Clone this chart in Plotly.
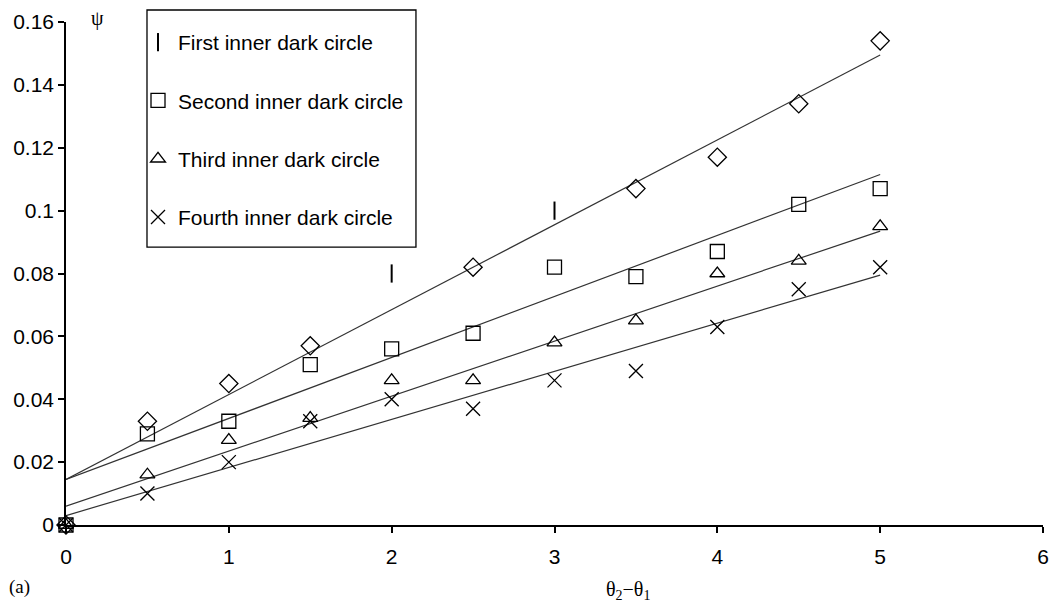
import plotly.graph_objects as go

# ---- data ----
x_vals = [0, 0.5, 1, 1.5, 2, 2.5, 3, 3.5, 4, 4.5, 5]

# first inner dark circle: diamonds (x=2 and x=3 plotted as "I" marks)
first_x_diamond = [0, 0.5, 1, 1.5, 2.5, 3.5, 4, 4.5, 5]
first_y_diamond = [0, 0.033, 0.045, 0.057, 0.082, 0.107, 0.117, 0.134, 0.154]
first_x_bar = [2, 3]
first_y_bar = [0.080, 0.100]

second_y = [0, 0.029, 0.033, 0.051, 0.056, 0.061, 0.082, 0.079, 0.087, 0.102, 0.107]
third_y = [0, 0.016, 0.027, 0.034, 0.046, 0.046, 0.058, 0.065, 0.080, 0.084, 0.095]
fourth_y = [0, 0.010, 0.020, 0.033, 0.040, 0.037, 0.046, 0.049, 0.063, 0.075, 0.082]

series_names = ["First inner dark circle", "Second inner dark circle",
                "Third inner dark circle", "Fourth inner dark circle"]

# linear trend lines (intercept, slope)
trend_intercepts = [0.0145, 0.0145, 0.0060, 0.0030]
trend_slopes = [0.0270, 0.0194, 0.0175, 0.0153]
trend_x = [0, 5]

y_tickvals = [0, 0.02, 0.04, 0.06, 0.08, 0.1, 0.12, 0.14, 0.16]
y_ticktext = ["0", "0.02", "0.04", "0.06", "0.08", "0.1", "0.12", "0.14", "0.16"]
x_tickvals = [0, 1, 2, 3, 4, 5, 6]

SANS = "Liberation Sans"
SERIF = "Liberation Serif"

# ---- figure ----
fig = go.Figure()

for b, m in zip(trend_intercepts, trend_slopes):
    fig.add_trace(go.Scatter(
        x=trend_x, y=[b + m * xx for xx in trend_x], mode="lines",
        line=dict(color="#333333", width=1.2), showlegend=False, hoverinfo="skip"))

mk_line = dict(color="black", width=1.3)

fig.add_trace(go.Scatter(
    x=first_x_bar, y=first_y_bar, mode="markers", name=series_names[0],
    legendgroup="g1",
    marker=dict(symbol="line-ns-open", size=13, color="black",
                line=dict(color="black", width=2)), cliponaxis=False))
fig.add_trace(go.Scatter(
    x=first_x_diamond, y=first_y_diamond, mode="markers", name=series_names[0],
    legendgroup="g1", showlegend=False,
    marker=dict(symbol="diamond-open", size=14, color="black", line=mk_line),
    cliponaxis=False))
fig.add_trace(go.Scatter(
    x=x_vals, y=second_y, mode="markers", name=series_names[1], legendgroup="g2",
    marker=dict(symbol="square-open", size=14, color="black", line=mk_line),
    cliponaxis=False))
fig.add_trace(go.Scatter(
    x=x_vals, y=third_y, mode="markers", name=series_names[2], legendgroup="g3",
    marker=dict(symbol="triangle-up-open", size=13, color="black", line=mk_line),
    cliponaxis=False))
fig.add_trace(go.Scatter(
    x=x_vals, y=fourth_y, mode="markers", name=series_names[3], legendgroup="g4",
    marker=dict(symbol="x-thin-open", size=14, color="black", line=mk_line),
    cliponaxis=False))

# page body has an 8px margin: figure origin sits at (8, 8)
fig.update_layout(
    width=1050, height=600,
    margin=dict(l=58, r=15, t=14, b=83, autoexpand=False),
    paper_bgcolor="white", plot_bgcolor="white",
    font=dict(family=SANS, size=21, color="black"),
    showlegend=True,
    legend=dict(
        x=0.0737, y=1.0, xanchor="left", yanchor="top",
        borderwidth=0, bgcolor="rgba(0,0,0,0)",
        traceorder="grouped", tracegroupgap=28,
        font=dict(family=SANS, size=21, color="black"),
        itemwidth=30,
    ),
    xaxis=dict(
        range=[0, 6], tickvals=x_tickvals, showgrid=False, zeroline=False,
        showline=True, linecolor="black", linewidth=1.5,
        ticks="outside", ticklen=6, tickcolor="black", tickwidth=1.5,
        tickfont=dict(family=SANS, size=21), ticklabelstandoff=6,
    ),
    yaxis=dict(
        range=[0, 0.16], tickvals=y_tickvals, ticktext=y_ticktext,
        showgrid=False, zeroline=False,
        showline=True, linecolor="black", linewidth=1.5,
        ticks="outside", ticklen=6, tickcolor="black", tickwidth=1.5,
        tickfont=dict(family=SANS, size=21),
    ),
    shapes=[dict(type="rect", xref="paper", yref="paper",
                 x0=0.0829, x1=0.3582, y0=0.5524, y1=1.0239,
                 line=dict(color="black", width=1.3), fillcolor="rgba(0,0,0,0)",
                 layer="above")],
)

fig.add_annotation(
    text="θ<sub>2</sub>−θ<sub>1</sub>", xref="paper", yref="paper",
    x=0.575, y=-0.13, xanchor="center", yanchor="middle", showarrow=False,
    font=dict(family=SERIF, size=20, color="black"))
fig.add_annotation(
    text="(a)", xref="paper", yref="paper",
    x=-0.06, y=-0.123, xanchor="left", yanchor="middle", showarrow=False,
    font=dict(family=SERIF, size=19, color="black"))
fig.add_annotation(
    text="ψ", xref="paper", yref="paper",
    x=0.032, y=1.007, xanchor="center", yanchor="middle", showarrow=False,
    font=dict(family=SERIF, size=20, color="black"))

fig.write_html("out.html")
